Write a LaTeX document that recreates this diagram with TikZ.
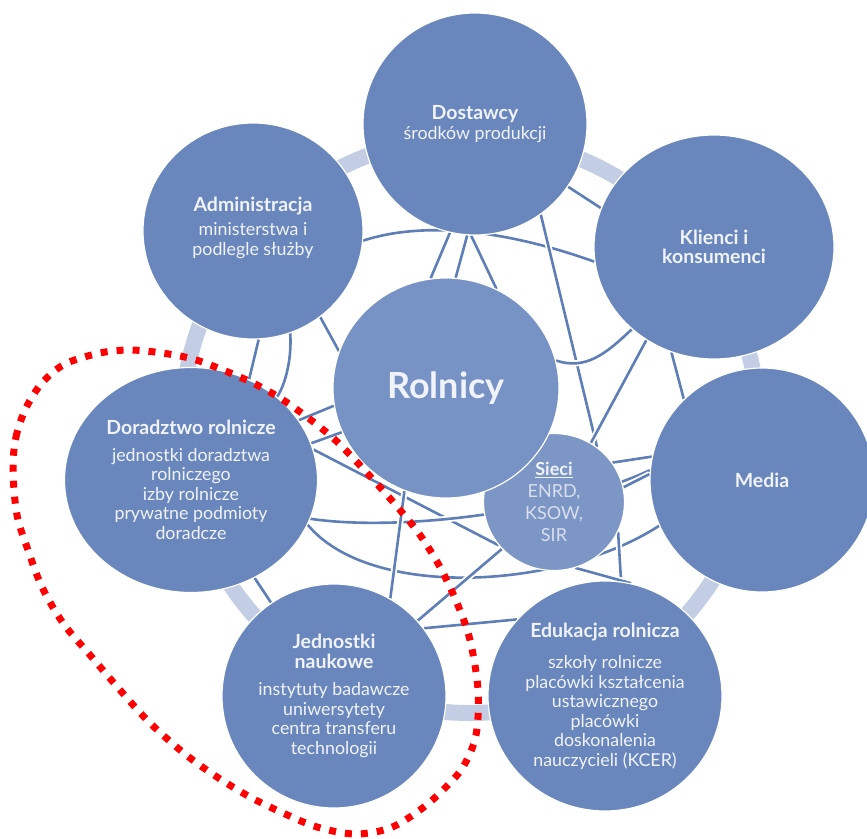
\documentclass[tikz,border=0pt]{standalone}
\usepackage{fontspec}
\setmainfont{Lato}
\usetikzlibrary{shapes.geometric}
\pgfdeclarelayer{bg}
\pgfdeclarelayer{fg}
\pgfsetlayers{bg,main,fg}
\definecolor{circ}{HTML}{6987BD}
\definecolor{rolc}{HTML}{7792C4}
\definecolor{siec}{HTML}{7C96C6}
\definecolor{bandc}{HTML}{C3CEE4}
\definecolor{netc}{HTML}{5E7EB8}
\definecolor{txt}{HTML}{F0F3F9}
\definecolor{txtsoft}{HTML}{D9DFEC}
\newcommand\titlef{\bfseries\fontsize{19.5}{21}\selectfont}
\begin{document}
\begin{tikzpicture}[x=1pt,y=-1pt,
  bubble/.style={ellipse, fill=circ, draw=white, line width=1.2pt, inner sep=0pt,
    align=center, text=txt, font=\fontsize{17.8}{19.5}\selectfont},
  bandline/.style={draw=bandc, line width=16pt},
  net/.style={draw=netc, line width=2.6pt, preaction={draw=white, line width=6.3pt}},
  reddot/.style={draw=red, line width=7pt, dash pattern=on 7pt off 9pt}]
\useasboundingbox (0,0) rectangle (867,838);

% nodes
\node[bubble, minimum width=224pt, minimum height=222pt] (dost) at (475,124)
  {{\titlef Dostawcy}\\[1pt] środków produkcji};
\node[bubble, minimum width=220pt, minimum height=216pt] (adm) at (253,231)
  {{\titlef Administracja}\\[5pt] ministerstwa i\\ podlegle służby\\[-10pt] \mbox{}};
\node[bubble, minimum width=240pt, minimum height=224pt] (kli) at (714,247)
  {{\titlef Klienci i}\\ {\titlef konsumenci}};
\node[bubble, minimum width=224pt, minimum height=224pt] (med) at (762,480)
  {{\titlef Media}};
\node[bubble, minimum width=234pt, minimum height=230pt] (edu) at (605,696)
  {{\titlef Edukacja rolnicza}\\[12pt] szkoły rolnicze\\ placówki kształcenia\\ ustawicznego\\ placówki\\ doskonalenia\\ nauczycieli (KCER)};
\node[bubble, minimum width=224pt, minimum height=224pt] (jed) at (334,696)
  {{\titlef Jednostki}\\ {\titlef naukowe}\\[8pt] instytuty badawcze\\ uniwersytety\\ centra transferu\\ technologii};
\node[bubble, minimum width=253pt, minimum height=225pt] (dor) at (191,480)
  {{\titlef Doradztwo rolnicze}\\[7pt] jednostki doradztwa\\ rolniczego\\ izby rolnicze\\ prywatne podmioty\\ doradcze};
\node[bubble, fill=siec, minimum width=141pt, minimum height=137pt,
  font=\fontsize{18}{22}\selectfont] (sie) at (554,502)
  {\underline{\textbf{Sieci}}\\ {\color{txtsoft}ENRD,}\\ {\color{txtsoft}KSOW,}\\ {\color{txtsoft}SIR}};
\node[bubble, fill=rolc, minimum width=226pt, minimum height=220pt,
  font=\bfseries\fontsize{36}{40}\selectfont] (rol) at (446,388) {Rolnicy};

\begin{pgfonlayer}{bg}
  % ring of light bands behind the outer circles
  \coordinate (ringc) at (470,425);
  \draw[bandline] (ringc) circle[radius=288pt];
  % network
  \draw[net] (adm.-5) .. controls (420,222) and (500,228) .. (kli.187);
  \draw[net] (dost.-103) -- (rol.98);
  \draw[net] (dost.-94) -- (rol.85);
  \draw[net] (dost.-92) -- (rol.63);
  \draw[net] (dost.-54) -- (sie.52);
  \draw[net] (dost.-34) -- (kli.161);
  \draw[net] (adm.-52) -- (rol.161);
  \draw[net] (adm.-87) -- (dor.60);
  \draw[net] (adm.-70) .. controls (292,360) and (285,385) .. (dor.44);
  \draw[net] (dor.29) -- (rol.-171);
  \draw[net] (dor.17) -- (rol.-157);
  \draw[net] (dor.14) -- (sie.-142);
  \draw[net] (dor.-18) .. controls (400,532) and (560,512) .. (med.175);
  \draw[net] (dor.-21) .. controls (370,600) and (560,590) .. (med.-156);
  \draw[net] (rol.-112) -- (jed.60);
  \draw[net] (jed.42) -- (sie.-138);
  \draw[net] (jed.37) -- (edu.139);
  \draw[net] (rol.14) .. controls (585,370) and (605,355) .. (kli.-135);
  \draw[net] (kli.-126) -- (sie.58);
  \draw[net] (kli.-112) -- (med.134);
  \draw[net] (sie.34) -- (med.168);
  \draw[net] (sie.12) -- (med.177);
  \draw[net] (sie.-25) -- (edu.82);
  \draw[net] (sie.-72) -- (edu.77);
  \draw[net] (dor.-57) -- (jed.124);
\end{pgfonlayer}

\begin{pgfonlayer}{fg}
  \draw[reddot] plot[smooth cycle, tension=0.55] coordinates {
    (13,470) (16,437) (26,408) (42,383) (65,364) (100,353) (130,350) (162,353)
    (193,359) (223,370) (253,383) (280,398) (307,417) (333,438) (355,460)
    (378,485) (400,510) (420,535) (440,567) (457,603) (470,640) (478,690)
    (476,735) (463,767) (443,790) (420,810) (390,828) (355,834) (317,827)
    (283,813) (250,797) (217,777) (185,754) (150,723) (120,690) (90,655)
    (63,623) (42,587) (28,550) (17,515)};
\end{pgfonlayer}
\end{tikzpicture}
\end{document}
